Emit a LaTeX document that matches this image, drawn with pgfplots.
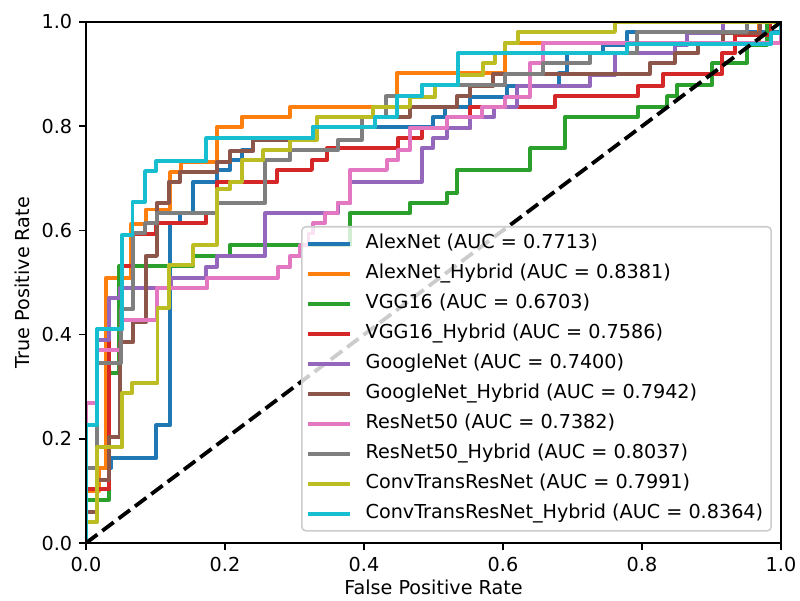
\documentclass[border=0pt]{standalone}
\usepackage{fontspec}
\setmainfont{DejaVu Sans}
\usepackage{pgfplots}
\pgfplotsset{compat=1.18}
\definecolor{tabblue}{HTML}{1F77B4}
\definecolor{taborange}{HTML}{FF7F0E}
\definecolor{tabgreen}{HTML}{2CA02C}
\definecolor{tabred}{HTML}{D62728}
\definecolor{tabpurple}{HTML}{9467BD}
\definecolor{tabbrown}{HTML}{8C564B}
\definecolor{tabpink}{HTML}{E377C2}
\definecolor{tabgray}{HTML}{7F7F7F}
\definecolor{tabolive}{HTML}{BCBD22}
\definecolor{tabcyan}{HTML}{17BECF}

\begin{document}
\begin{tikzpicture}
\begin{axis}[
    scale only axis,
    width=347.5pt, height=260.5pt,
    xmin=0, xmax=1, ymin=0, ymax=1,
    xtick={0,0.2,0.4,0.6,0.8,1},
    ytick={0,0.2,0.4,0.6,0.8,1},
    /pgf/number format/assume math mode=true,
    xticklabel style={/pgf/number format/.cd, fixed, fixed zerofill, precision=1},
    yticklabel style={/pgf/number format/.cd, fixed, fixed zerofill, precision=1},
    tick label style={font=\fontsize{9.6}{11}\selectfont},
    label style={font=\fontsize{9.6}{11}\selectfont},
    xlabel={False Positive Rate},
    ylabel={True Positive Rate},
    xlabel style={at={(axis description cs:0.5,-0.086)}, anchor=center},
    ylabel style={at={(axis description cs:-0.092,0.5)}, anchor=center},
    tick align=outside, tick pos=left,
    major tick length=3.4pt,
    every tick/.style={black, line width=0.77pt},
    axis line style={line width=0.77pt},
    axis on top,
    every axis plot/.append style={line width=1.9pt, line join=round},
    legend cell align=left,
    legend style={at={(0.987,0.022)}, anchor=south east,
        draw=black!20, fill=white, fill opacity=0.8, text opacity=1,
        rounded corners=2pt, line width=0.77pt,
        font=\fontsize{9.6}{11}\selectfont,
        nodes={text height=7.5pt, text depth=2.5pt, inner ysep=2.5pt},
        inner xsep=2pt, inner ysep=1pt, row sep=0pt,
        /tikz/every odd column/.append style={column sep=5pt}},
    legend image code/.code={\draw[#1, line width=1.9pt] (0pt,0pt) -- (21pt,0pt);},
]

% AlexNet
\addplot[tabblue] coordinates {
(0,0)(0,0.144)(0.036,0.144)(0.036,0.163)(0.101,0.163)(0.101,0.226)(0.121,0.226)
(0.121,0.614)(0.135,0.614)(0.135,0.633)(0.154,0.633)(0.154,0.693)(0.188,0.693)
(0.188,0.716)(0.207,0.716)(0.207,0.735)(0.224,0.735)(0.224,0.754)(0.240,0.754)
(0.240,0.778)(0.327,0.778)(0.327,0.798)(0.499,0.798)(0.499,0.818)(0.517,0.818)
(0.517,0.837)(0.553,0.837)(0.553,0.856)(0.606,0.856)(0.606,0.877)(0.680,0.877)
(0.680,0.902)(0.692,0.902)(0.692,0.940)(0.744,0.940)(0.744,0.956)(0.778,0.956)
(0.778,0.981)(1,0.981)(1,1)
};
\addlegendentry{AlexNet (AUC = 0.7713)}

% AlexNet_Hybrid
\addplot[taborange] coordinates {
(0,0)(0,0.100)(0.019,0.100)(0.019,0.144)(0.029,0.144)(0.029,0.509)(0.065,0.509)
(0.065,0.612)(0.086,0.612)(0.086,0.640)(0.121,0.640)(0.121,0.712)(0.137,0.712)
(0.137,0.731)(0.188,0.731)(0.188,0.798)(0.224,0.798)(0.224,0.818)(0.294,0.818)
(0.294,0.837)(0.447,0.837)(0.447,0.902)(0.603,0.902)(0.603,0.960)(0.968,0.960)
(0.968,1)(1,1)
};
\addlegendentry{AlexNet\_Hybrid (AUC = 0.8381)}

% VGG16
\addplot[tabgreen] coordinates {
(0,0)(0,0.083)(0.033,0.083)(0.033,0.326)(0.048,0.326)(0.048,0.532)(0.154,0.532)
(0.154,0.551)(0.207,0.551)(0.207,0.572)(0.380,0.572)(0.380,0.633)(0.466,0.633)
(0.466,0.653)(0.519,0.653)(0.519,0.672)(0.534,0.672)(0.534,0.716)(0.639,0.716)
(0.639,0.758)(0.689,0.758)(0.689,0.818)(0.794,0.818)(0.794,0.837)(0.836,0.837)
(0.836,0.858)(0.850,0.858)(0.850,0.879)(0.901,0.879)(0.901,0.921)(0.951,0.921)
(0.951,0.956)(0.980,0.956)(0.980,1)(1,1)
};
\addlegendentry{VGG16 (AUC = 0.6703)}

% VGG16_Hybrid
\addplot[tabred] coordinates {
(0,0)(0,0.104)(0.033,0.104)(0.033,0.410)(0.052,0.410)(0.052,0.532)(0.068,0.532)
(0.068,0.593)(0.101,0.593)(0.101,0.614)(0.173,0.614)(0.173,0.633)(0.188,0.633)
(0.188,0.693)(0.275,0.693)(0.275,0.716)(0.325,0.716)(0.325,0.735)(0.347,0.735)
(0.347,0.758)(0.449,0.758)(0.449,0.777)(0.483,0.777)(0.483,0.797)(0.553,0.797)
(0.553,0.837)(0.675,0.837)(0.675,0.858)(0.794,0.858)(0.794,0.877)(0.830,0.877)
(0.830,0.900)(0.915,0.900)(0.915,0.940)(0.934,0.940)(0.934,0.975)(0.985,0.975)
(0.985,1)(1,1)
};
\addlegendentry{VGG16\_Hybrid (AUC = 0.7586)}

% GoogleNet
\addplot[tabpurple] coordinates {
(0,0)(0,0.226)(0.016,0.226)(0.016,0.390)(0.033,0.390)(0.033,0.470)(0.049,0.470)
(0.049,0.489)(0.122,0.489)(0.122,0.509)(0.173,0.509)(0.173,0.530)(0.188,0.530)
(0.188,0.551)(0.258,0.551)(0.258,0.633)(0.363,0.633)(0.363,0.653)(0.380,0.653)
(0.380,0.693)(0.483,0.693)(0.483,0.758)(0.499,0.758)(0.499,0.777)(0.519,0.777)
(0.519,0.797)(0.553,0.797)(0.553,0.818)(0.587,0.818)(0.587,0.837)(0.620,0.837)
(0.620,0.877)(0.725,0.877)(0.725,0.898)(0.761,0.898)(0.761,0.940)(0.847,0.940)
(0.847,0.956)(0.865,0.956)(0.865,0.979)(0.917,0.979)(0.917,1)(1,1)
};
\addlegendentry{GoogleNet (AUC = 0.7400)}

% GoogleNet_Hybrid
\addplot[tabbrown] coordinates {
(0,0)(0,0.060)(0.016,0.060)(0.016,0.121)(0.033,0.121)(0.033,0.203)(0.049,0.203)
(0.049,0.386)(0.068,0.386)(0.068,0.424)(0.086,0.424)(0.086,0.551)(0.102,0.551)
(0.102,0.653)(0.119,0.653)(0.119,0.693)(0.135,0.693)(0.135,0.712)(0.188,0.712)
(0.188,0.731)(0.207,0.731)(0.207,0.752)(0.240,0.752)(0.240,0.774)(0.327,0.774)
(0.327,0.798)(0.416,0.798)(0.416,0.818)(0.466,0.818)(0.466,0.837)(0.534,0.837)
(0.534,0.858)(0.553,0.858)(0.553,0.877)(0.586,0.877)(0.586,0.900)(0.811,0.900)
(0.811,0.921)(0.847,0.921)(0.847,0.940)(0.881,0.940)(0.881,0.958)(0.917,0.958)
(0.917,0.979)(0.970,0.979)(0.970,1)(1,1)
};
\addlegendentry{GoogleNet\_Hybrid (AUC = 0.7942)}

% ResNet50
\addplot[tabpink] coordinates {
(0,0)(0,0.268)(0.016,0.268)(0.016,0.370)(0.050,0.370)(0.050,0.428)(0.102,0.428)
(0.102,0.489)(0.174,0.489)(0.174,0.509)(0.276,0.509)(0.276,0.530)(0.294,0.530)
(0.294,0.551)(0.308,0.551)(0.308,0.572)(0.320,0.572)(0.320,0.594)(0.327,0.594)
(0.327,0.614)(0.344,0.614)(0.344,0.633)(0.362,0.633)(0.362,0.653)(0.380,0.653)
(0.380,0.716)(0.433,0.716)(0.433,0.735)(0.449,0.735)(0.449,0.754)(0.466,0.754)
(0.466,0.797)(0.519,0.797)(0.519,0.818)(0.570,0.818)(0.570,0.837)(0.603,0.837)
(0.603,0.856)(0.639,0.856)(0.639,0.921)(0.658,0.921)(0.658,0.960)(1,0.960)(1,1)
};
\addlegendentry{ResNet50 (AUC = 0.7382)}

% ResNet50_Hybrid
\addplot[tabgray] coordinates {
(0,0)(0,0.144)(0.016,0.144)(0.016,0.345)(0.050,0.345)(0.050,0.449)(0.068,0.449)
(0.068,0.595)(0.085,0.595)(0.085,0.614)(0.102,0.614)(0.102,0.633)(0.188,0.633)
(0.188,0.653)(0.258,0.653)(0.258,0.735)(0.294,0.735)(0.294,0.754)(0.363,0.754)
(0.363,0.774)(0.397,0.774)(0.397,0.818)(0.432,0.818)(0.432,0.858)(0.483,0.858)
(0.483,0.879)(0.603,0.879)(0.603,0.900)(0.658,0.900)(0.658,0.921)(0.725,0.921)
(0.725,0.940)(0.793,0.940)(0.793,0.981)(0.951,0.981)(0.951,1)(1,1)
};
\addlegendentry{ResNet50\_Hybrid (AUC = 0.8037)}

% ConvTransResNet
\addplot[tabolive] coordinates {
(0,0)(0,0.040)(0.016,0.040)(0.016,0.184)(0.052,0.184)(0.052,0.288)(0.066,0.288)
(0.066,0.307)(0.103,0.307)(0.103,0.451)(0.119,0.451)(0.119,0.533)(0.154,0.533)
(0.154,0.572)(0.188,0.572)(0.188,0.679)(0.207,0.679)(0.207,0.693)(0.224,0.693)
(0.224,0.735)(0.255,0.735)(0.255,0.754)(0.294,0.754)(0.294,0.774)(0.332,0.774)
(0.332,0.818)(0.413,0.818)(0.413,0.837)(0.466,0.837)(0.466,0.856)(0.502,0.856)
(0.502,0.879)(0.535,0.879)(0.535,0.898)(0.571,0.898)(0.571,0.921)(0.588,0.921)
(0.588,0.940)(0.603,0.940)(0.603,0.960)(0.621,0.960)(0.621,0.981)(0.761,0.981)
(0.761,1)(1,1)
};
\addlegendentry{ConvTransResNet (AUC = 0.7991)}

% ConvTransResNet_Hybrid
\addplot[tabcyan] coordinates {
(0,0)(0,0.226)(0.016,0.226)(0.016,0.411)(0.052,0.411)(0.052,0.591)(0.067,0.591)
(0.067,0.655)(0.085,0.655)(0.085,0.714)(0.101,0.714)(0.101,0.733)(0.173,0.733)
(0.173,0.777)(0.327,0.777)(0.327,0.798)(0.416,0.798)(0.416,0.818)(0.447,0.818)
(0.447,0.858)(0.483,0.858)(0.483,0.879)(0.535,0.879)(0.535,0.940)(0.778,0.940)
(0.778,0.958)(0.986,0.958)(0.986,0.979)(1,0.979)(1,1)
};
\addlegendentry{ConvTransResNet\_Hybrid (AUC = 0.8364)}

% chance line
\addplot[black, line width=1.9pt, dash pattern=on 7.1pt off 3.1pt, forget plot]
coordinates {(0,0)(1,1)};

\end{axis}
\pgfresetboundingbox
\path[use as bounding box] ([shift={(-43pt,-28.5pt)}]current axis.south west)
    rectangle ([shift={(9.5pt,11pt)}]current axis.north east);
\end{tikzpicture}
\end{document}
